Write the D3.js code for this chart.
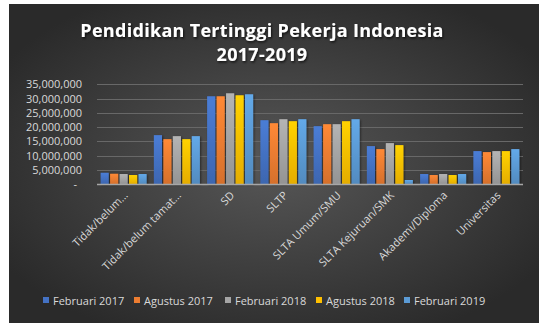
<!DOCTYPE html>
<html>
<head>
<meta charset="UTF-8">
<script src="https://cdn.jsdelivr.net/npm/d3@7"></script>
<style>
  body { margin:0; background:#fff; }
  text { font-family: "Open Sans", sans-serif; }
</style>
</head>
<body>
<div id="chart"></div>
<script>
// data
var categories = ["Tidak/belum...", "Tidak/belum tamat...", "SD", "SLTP", "SLTA Umum/SMU",
                  "SLTA Kejuruan/SMK", "Akademi/Diploma", "Universitas"];
var series = ["Februari 2017", "Agustus 2017", "Februari 2018", "Agustus 2018", "Februari 2019"];
var feb2017 = [3950000, 17150000, 30800000, 22400000, 20300000, 13300000, 3500000, 11550000];
var agu2017 = [3600000, 15750000, 30800000, 21350000, 21000000, 12250000, 3150000, 11200000];
var feb2018 = [3500000, 16800000, 31850000, 22750000, 21000000, 14350000, 3500000, 11550000];
var agu2018 = [3150000, 15750000, 31150000, 22050000, 22050000, 13650000, 3150000, 11550000];
var feb2019 = [3500000, 16800000, 31500000, 22750000, 22750000, 1400000, 3500000, 12250000];
var yTicks = [0, 5000000, 10000000, 15000000, 20000000, 25000000, 30000000, 35000000];
var colors = ["#4472C4", "#ED7D31", "#A5A5A5", "#FFC000", "#5B9BD5"];

var values = [feb2017, agu2017, feb2018, agu2018, feb2019];

var W = 546, H = 329;
var plotLeft = 97, plotRight = 523, plotTop = 84.3, plotBottom = 184;

var svg = d3.select("#chart").append("svg").attr("width", W).attr("height", H);
var defs = svg.append("defs");

var bg = defs.append("radialGradient").attr("id", "bg")
  .attr("cx", "50%").attr("cy", "50%").attr("r", "60%");
bg.append("stop").attr("offset", "0%").attr("stop-color", "#575757");
bg.append("stop").attr("offset", "100%").attr("stop-color", "#2a2a2a");

colors.forEach(function(c, i) {
  var g = defs.append("linearGradient").attr("id", "g" + i)
    .attr("x1", 0).attr("y1", 0).attr("x2", 0).attr("y2", 1);
  g.append("stop").attr("offset", "0%").attr("stop-color", d3.color(c).brighter(0.25));
  g.append("stop").attr("offset", "100%").attr("stop-color", d3.color(c).darker(0.3));
});

var sh = defs.append("filter").attr("id", "sh").attr("x", "-30%").attr("y", "-10%")
  .attr("width", "160%").attr("height", "130%");
sh.append("feDropShadow").attr("dx", 1).attr("dy", 1).attr("stdDeviation", 1)
  .attr("flood-color", "#000").attr("flood-opacity", 0.5);

var tsh = defs.append("filter").attr("id", "tsh").attr("x", "-5%").attr("y", "-20%")
  .attr("width", "110%").attr("height", "150%");
tsh.append("feDropShadow").attr("dx", 1).attr("dy", 1.5).attr("stdDeviation", 1.2)
  .attr("flood-color", "#000").attr("flood-opacity", 0.7);

svg.append("rect").attr("x", 9).attr("y", 4).attr("width", 530).attr("height", 319)
  .attr("fill", "url(#bg)");

// title
svg.append("text").attr("x", 262).attr("y", 37).attr("text-anchor", "middle")
  .attr("fill", "#fff").attr("font-size", 18).attr("font-weight", "bold")
  .attr("letter-spacing", 0.3).attr("filter", "url(#tsh)")
  .text("Pendidikan Tertinggi Pekerja Indonesia");
svg.append("text").attr("x", 262).attr("y", 61).attr("text-anchor", "middle")
  .attr("fill", "#fff").attr("font-size", 18).attr("font-weight", "bold")
  .attr("letter-spacing", 0.3).attr("filter", "url(#tsh)")
  .text("2017-2019");

var y = d3.scaleLinear().domain([0, 35000000]).range([plotBottom, plotTop]);
var x0 = d3.scaleBand().domain(categories).range([plotLeft, plotRight])
  .paddingInner(0.136).paddingOuter(0.068);
var x1 = d3.scaleBand().domain(series).range([0, x0.bandwidth()]).paddingInner(0.14);

// grid
svg.append("g")
  .selectAll("line").data(yTicks.slice(1)).enter().append("line")
  .attr("x1", plotLeft).attr("x2", plotRight)
  .attr("y1", function(d){ return Math.round(y(d)) + 0.5; })
  .attr("y2", function(d){ return Math.round(y(d)) + 0.5; })
  .attr("stroke", "#686868").attr("stroke-width", 1);

// y labels
var fmt = d3.format(",");
svg.append("g")
  .selectAll("text").data(yTicks).enter().append("text")
  .attr("x", function(d){ return d === 0 ? 77 : 82; })
  .attr("y", function(d){ return y(d) + 4; })
  .attr("text-anchor", "end").attr("font-size", 11).attr("fill", "#d9d9d9")
  .text(function(d){ return d === 0 ? "-" : fmt(d); });

// bars
var groups = svg.append("g").selectAll("g").data(categories).enter().append("g")
  .attr("transform", function(d){ return "translate(" + x0(d) + ",0)"; });
groups.selectAll("rect")
  .data(function(d, ci){ return series.map(function(s, si){ return {s: s, si: si, v: values[si][ci]}; }); })
  .enter().append("rect")
  .attr("x", function(d){ return x1(d.s); })
  .attr("y", function(d){ return y(d.v); })
  .attr("width", x1.bandwidth())
  .attr("height", function(d){ return plotBottom - y(d.v); })
  .attr("fill", function(d){ return "url(#g" + d.si + ")"; })
  .attr("filter", "url(#sh)");

// x axis line
svg.append("line").attr("x1", plotLeft).attr("x2", plotRight)
  .attr("y1", plotBottom + 0.5).attr("y2", plotBottom + 0.5)
  .attr("stroke", "#a6a6a6").attr("stroke-width", 1.5);

// x labels
svg.append("g").selectAll("text").data(categories).enter().append("text")
  .attr("transform", function(d){
    return "translate(" + (x0(d) + x0.bandwidth()/2 + 5) + "," + (plotBottom + 12) + ") rotate(-45)";
  })
  .attr("text-anchor", "end").attr("font-size", 11).attr("fill", "#d9d9d9")
  .text(function(d){ return d; });

// legend
var legX = [43, 134, 225, 316, 404];
var leg = svg.append("g").selectAll("g").data(series).enter().append("g")
  .attr("transform", function(d, i){ return "translate(" + legX[i] + ",297)"; });
leg.append("rect").attr("width", 6).attr("height", 6)
  .attr("fill", function(d, i){ return colors[i]; });
leg.append("text").attr("x", 10).attr("y", 7.5).attr("font-size", 11).attr("fill", "#d9d9d9")
  .text(function(d){ return d; });
</script>
</body>
</html>
